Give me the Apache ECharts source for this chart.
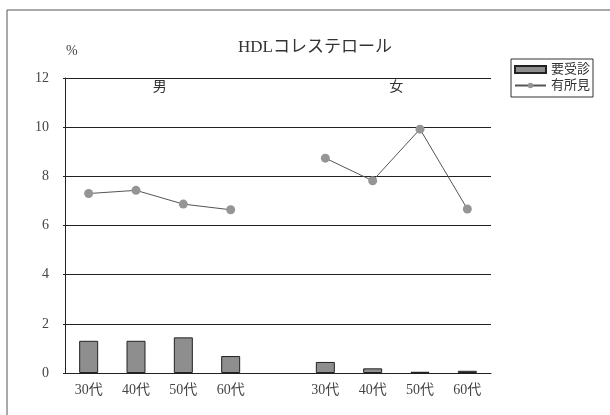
<!DOCTYPE html>
<html><head><meta charset="utf-8">
<script src="https://cdn.jsdelivr.net/npm/echarts@6/dist/echarts.min.js"></script>
<style>html,body{margin:0;padding:0;background:#fff}#c{width:610px;height:415px}</style>
</head><body><div id="c"></div>
<script>
const categories = ['30代','40代','50代','60代','','30代','40代','50代','60代'];
const yousinsin = [1.31, 1.31, 1.45, 0.69, null, 0.45, 0.19, 0.05, 0.09];
const yushoken = [7.30, 7.43, 6.87, 6.64, null, 8.74, 7.82, 9.92, 6.67];
const groupLabels = ['男','女'];
const yTicks = [0,2,4,6,8,10,12];
const FONT = '"Liberation Serif", "Noto Sans CJK JP", serif';

const chart = echarts.init(document.getElementById('c'), null, {renderer:'canvas'});
chart.setOption({
  backgroundColor:'#fff',
  animation:false,
  textStyle:{fontFamily:FONT},
  title:{text:'HDLコレステロール', left:310, textAlign:'center', top:34,
    textStyle:{fontFamily:FONT, fontSize:17, fontWeight:'normal', color:'#333'}},
  legend:{orient:'vertical', left:511, top:59, itemWidth:31, itemHeight:7, itemGap:3,
    padding:[4,3,5,3], borderColor:'#333', borderWidth:1, backgroundColor:'#fff',
    textStyle:{fontFamily:FONT, fontSize:13, color:'#333'},
    data:[{name:'要受診', icon:'rect'}, {name:'有所見'}]},
  grid:{left:65, right:119, top:78, bottom:42},
  xAxis:{type:'category', data:categories,
    axisLine:{lineStyle:{color:'#222', width:1}},
    axisTick:{inside:true, length:4, lineStyle:{color:'#222'}},
    axisLabel:{fontFamily:FONT, fontSize:14, color:'#444', margin:10}},
  yAxis:{type:'value', min:yTicks[0], max:yTicks[yTicks.length-1], interval:2,
    axisLine:{show:true, lineStyle:{color:'#222'}},
    axisTick:{show:true, length:2, lineStyle:{color:'#222'}},
    axisLabel:{fontFamily:FONT, fontSize:14, color:'#444', margin:16},
    splitLine:{lineStyle:{color:'#222', width:1}}},
  series:[
    {name:'要受診', type:'bar', data:yousinsin, barWidth:19,
      itemStyle:{color:'#8e8e8e', borderColor:'#222', borderWidth:1}},
    {name:'有所見', type:'line', data:yushoken, connectNulls:false,
      symbol:'circle', symbolSize:9,
      itemStyle:{color:'#959595'}, lineStyle:{color:'#555', width:1}}
  ]
});
const p1 = chart.convertToPixel({xAxisIndex:0}, 1);
const p2 = chart.convertToPixel({xAxisIndex:0}, 2);
const p6 = chart.convertToPixel({xAxisIndex:0}, 6);
const p7 = chart.convertToPixel({xAxisIndex:0}, 7);
chart.setOption({graphic:[
  {type:'rect', shape:{x:7, y:10, width:700, height:500}, style:{fill:null, stroke:'#555', lineWidth:1}, z:-1},
  {type:'text', left:66, top:44, style:{text:'%', font:'14px '+FONT, fill:'#444'}},
  {type:'text', x:(p1+p2)/2, y:80, style:{text:groupLabels[0], font:'14px '+FONT, fill:'#333', textAlign:'center'}},
  {type:'text', x:(p6+p7)/2, y:80, style:{text:groupLabels[1], font:'14px '+FONT, fill:'#333', textAlign:'center'}}
]});
</script></body></html>
